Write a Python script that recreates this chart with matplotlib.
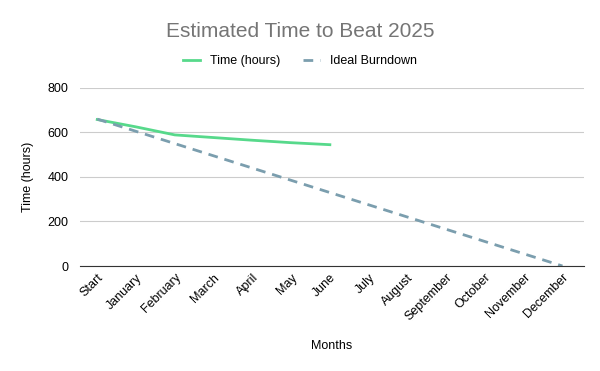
import matplotlib.pyplot as plt

plt.rcParams['font.family'] = ['Liberation Sans', 'DejaVu Sans']

months = ['Start', 'January', 'February', 'March', 'April', 'May', 'June',
          'July', 'August', 'September', 'October', 'November', 'December']
time_hours = [658, 625, 589, 577, 565, 554, 545]
ideal = [660, 605, 550, 495, 440, 385, 330, 275, 220, 165, 110, 55, 0]

fig = plt.figure(figsize=(6, 3.71), dpi=100)
ax = fig.add_axes([0.133, 0.283, 0.84, 0.48])

x = list(range(len(months)))
ax.plot(x[:len(time_hours)], time_hours, color='#57d98b', lw=2, label='Time (hours)')
ax.plot(x, ideal, color='#7b9eae', lw=2, dashes=(3.5, 2.5), label='Ideal Burndown')

ax.set_ylim(0, 800)
ax.set_yticks([0, 200, 400, 600, 800])
ax.set_xlim(-0.45, 12.55)
ax.set_xticks(x)
ax.set_xticklabels(months, rotation=45, ha='right', rotation_mode='anchor', fontsize=9)
ax.tick_params(axis='y', labelsize=9, length=0, pad=8)
ax.tick_params(axis='x', length=0, pad=4)
ax.grid(axis='y', color='#cccccc', lw=0.8)
ax.set_axisbelow(True)
for s in ['top', 'right', 'left']:
    ax.spines[s].set_visible(False)
ax.spines['bottom'].set_color('#333333')

ax.set_xlabel('Months', fontsize=9, labelpad=12)
ax.set_ylabel('Time (hours)', fontsize=9, labelpad=10)

fig.text(0.5, 0.915, 'Estimated Time to Beat 2025', ha='center', va='center',
         fontsize=15, color='#757575')
fig.legend(loc='center', bbox_to_anchor=(0.5, 0.835), ncol=2, frameon=False,
           fontsize=9, handlelength=1.4, columnspacing=1.8)

fig.savefig('out.png')
